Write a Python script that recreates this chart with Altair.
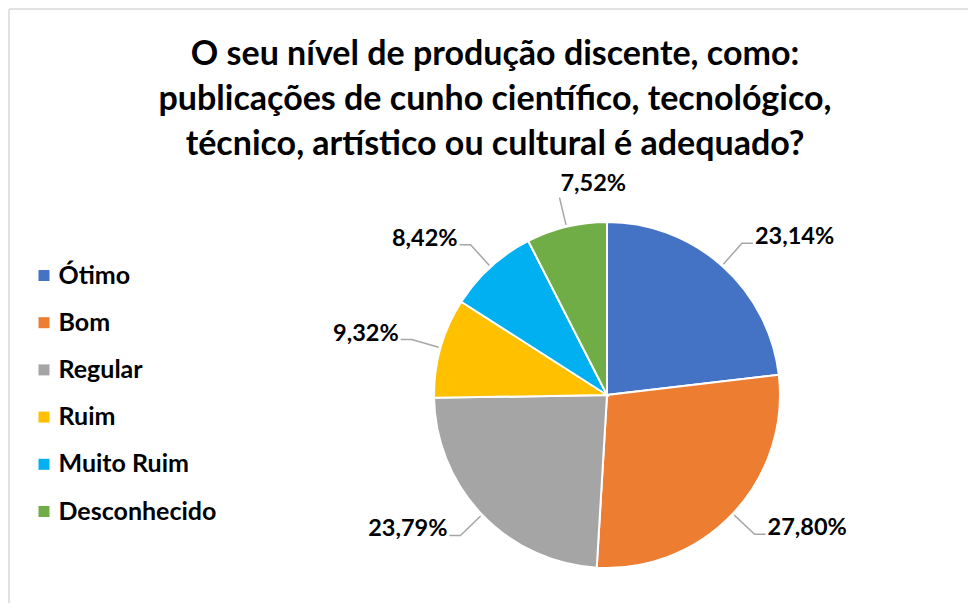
import math
import altair as alt
import pandas as pd

# ---- data ----
categories = ["Ótimo", "Bom", "Regular", "Ruim", "Muito Ruim", "Desconhecido"]
percentages = [23.14, 27.80, 23.79, 9.32, 8.42, 7.52]
colors = ["#4472C4", "#ED7D31", "#A5A5A5", "#FFC000", "#00B0F0", "#70AD47"]
title_lines = [
    "O seu nível de produção discente, como:",
    "publicações de cunho científico, tecnológico,",
    "técnico, artístico ou cultural é adequado?",
]

# ---- layout / style ----
W, H = 960, 595
CX, CY = 599, 387
R = 173
FONT = "Lato"
LABEL_SIZE = 23.5
LEADER = "#A6A6A6"

pie_df = pd.DataFrame({"cat": categories, "val": percentages, "idx": list(range(len(categories)))})
total = sum(percentages)

leader_rows, label_rows = [], []
cum = 0.0
for c, v in zip(categories, percentages):
    mid = (cum + v / 2) / total * 2 * math.pi
    cum += v
    s, co = math.sin(mid), math.cos(mid)
    p0 = (s * (R + 2), co * (R + 2))
    a = (s * (R + 30), co * (R + 30))
    txt = f"{v:.2f}".replace(".", ",") + "%"
    if abs(s) > 0.5:
        side = 1 if s > 0 else -1
        b = (a[0] + side * 11, a[1])
        pts = [p0, a, b]
        label_rows.append(dict(x=b[0] + side * 2, y=b[1] + 6, t=txt, al="left" if side > 0 else "right"))
    else:
        pts = [p0, a]
        label_rows.append(dict(x=a[0] + 1, y=a[1] + (2 if co > 0 else -2), t=txt, al="above" if co > 0 else "below"))
    for j, p in enumerate(pts):
        leader_rows.append(dict(cat=c, pt=j, x=p[0], y=p[1]))

leader_df = pd.DataFrame(leader_rows)
label_df = pd.DataFrame(label_rows)
one = pd.DataFrame({"k": [0]})

xs = alt.Scale(domain=[-CX, W - CX], nice=False, zero=False)
ys = alt.Scale(domain=[-(H - CY), CY], nice=False, zero=False)

pie = alt.Chart(pie_df).mark_arc(outerRadius=R, stroke="white", strokeWidth=2).encode(
    theta=alt.Theta("val:Q", stack=True),
    order=alt.Order("idx:Q"),
    color=alt.Color(
        "cat:N",
        sort=categories,
        scale=alt.Scale(domain=categories, range=colors),
        legend=alt.Legend(
            title=None,
            orient="none",
            legendX=23.5,
            legendY=255,
            symbolType="square",
            symbolSize=121,
            symbolStrokeWidth=0,
            labelFont=FONT,
            labelFontWeight="bold",
            labelFontSize=25,
            labelColor="#000000",
            labelOffset=2,
            rowPadding=21.2,
            padding=0,
        ),
    ),
    x=alt.value(CX),
    y=alt.value(CY),
)

leaders = alt.Chart(leader_df).mark_line(color=LEADER, strokeWidth=1.5).encode(
    x=alt.X("x:Q", scale=xs, axis=None),
    y=alt.Y("y:Q", scale=ys, axis=None),
    detail="cat:N",
    order="pt:Q",
)

def label_layer(al, align, baseline):
    return alt.Chart(label_df).transform_filter(alt.datum.al == al).mark_text(
        font=FONT, fontWeight="bold", fontSize=LABEL_SIZE, color="#000000",
        align=align, baseline=baseline,
    ).encode(
        x=alt.X("x:Q", scale=xs, axis=None),
        y=alt.Y("y:Q", scale=ys, axis=None),
        text="t:N",
    )

labels = [
    label_layer("left", "left", "middle"),
    label_layer("right", "right", "middle"),
    label_layer("above", "left", "bottom"),
    label_layer("below", "left", "top"),
]

title = alt.Chart(one).mark_text(
    text=title_lines, font=FONT, fontWeight="bold", fontSize=34, lineHeight=45,
    color="#000000", align="center", baseline="middle",
).encode(x=alt.value(487), y=alt.value(47))

border_top = alt.Chart(one).mark_rule(color="#D9D9D9", strokeWidth=1.5).encode(
    x=alt.value(1), x2=alt.value(W), y=alt.value(1)
)
border_left = alt.Chart(one).mark_rule(color="#D9D9D9", strokeWidth=1.5).encode(
    x=alt.value(1), y=alt.value(1), y2=alt.value(H)
)

chart = alt.layer(border_top, border_left, pie, leaders, *labels, title).properties(
    width=W, height=H, padding=0,
    autosize=alt.AutoSizeParams(type="none"),
    background="white",
).configure_view(strokeWidth=0)

chart.save("out.html", embed_options={"renderer": "svg", "actions": False})
